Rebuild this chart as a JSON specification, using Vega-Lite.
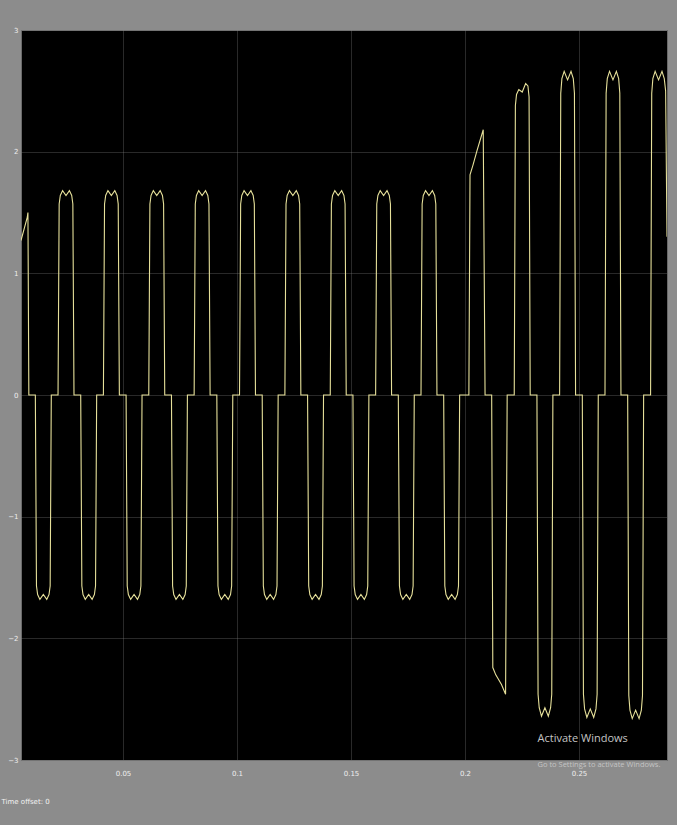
{
  "$schema": "https://vega.github.io/schema/vega-lite/v6.json",
  "width": 646,
  "height": 730,
  "autosize": {"type": "none"},
  "padding": {"left": 21, "top": 30, "right": 10, "bottom": 65},
  "background": "#8c8c8c",
  "config": {
    "view": {"fill": "#000000", "stroke": "#6a6a6a"},
    "axis": {
      "grid": true,
      "gridColor": "#8a8a8a",
      "gridDash": [1, 1],
      "gridWidth": 1,
      "gridOpacity": 0.6,
      "domain": false,
      "ticks": false,
      "labelColor": "#eeeeee",
      "labelFont": "DejaVu Sans",
      "labelFontSize": 7
    }
  },
  "datasets": {
    "wave": [
      {"t": 0.00526, "v": 127}, {"t": 0.0080, "v": 146}, {"t": 0.0083, "v": 150}, {"t": 0.0087, "v": 0},
      {"t": 0.01155, "v": 0}, {"t": 0.01205, "v": -157}, {"t": 0.01255, "v": -164}, {"t": 0.01355, "v": -168}, {"t": 0.01505, "v": -164}, {"t": 0.01655, "v": -168}, {"t": 0.01755, "v": -164}, {"t": 0.01805, "v": -157}, {"t": 0.01855, "v": 0},
      {"t": 0.0215, "v": 0}, {"t": 0.0220, "v": 157}, {"t": 0.0225, "v": 164}, {"t": 0.0235, "v": 168}, {"t": 0.0250, "v": 164}, {"t": 0.0265, "v": 168}, {"t": 0.0275, "v": 164}, {"t": 0.0280, "v": 157}, {"t": 0.0285, "v": 0},
      {"t": 0.03145, "v": 0}, {"t": 0.03195, "v": -157}, {"t": 0.03245, "v": -164}, {"t": 0.03345, "v": -168}, {"t": 0.03495, "v": -164}, {"t": 0.03645, "v": -168}, {"t": 0.03745, "v": -164}, {"t": 0.03795, "v": -157}, {"t": 0.03845, "v": 0},
      {"t": 0.0414, "v": 0}, {"t": 0.0419, "v": 157}, {"t": 0.0424, "v": 164}, {"t": 0.0434, "v": 168}, {"t": 0.0449, "v": 164}, {"t": 0.0464, "v": 168}, {"t": 0.0474, "v": 164}, {"t": 0.0479, "v": 157}, {"t": 0.0484, "v": 0},
      {"t": 0.05135, "v": 0}, {"t": 0.05185, "v": -157}, {"t": 0.05235, "v": -164}, {"t": 0.05335, "v": -168}, {"t": 0.05485, "v": -164}, {"t": 0.05635, "v": -168}, {"t": 0.05735, "v": -164}, {"t": 0.05785, "v": -157}, {"t": 0.05835, "v": 0},
      {"t": 0.0613, "v": 0}, {"t": 0.0618, "v": 157}, {"t": 0.0623, "v": 164}, {"t": 0.0633, "v": 168}, {"t": 0.0648, "v": 164}, {"t": 0.0663, "v": 168}, {"t": 0.0673, "v": 164}, {"t": 0.0678, "v": 157}, {"t": 0.0683, "v": 0},
      {"t": 0.07125, "v": 0}, {"t": 0.07175, "v": -157}, {"t": 0.07225, "v": -164}, {"t": 0.07325, "v": -168}, {"t": 0.07475, "v": -164}, {"t": 0.07625, "v": -168}, {"t": 0.07725, "v": -164}, {"t": 0.07775, "v": -157}, {"t": 0.07825, "v": 0},
      {"t": 0.0812, "v": 0}, {"t": 0.0817, "v": 157}, {"t": 0.0822, "v": 164}, {"t": 0.0832, "v": 168}, {"t": 0.0847, "v": 164}, {"t": 0.0862, "v": 168}, {"t": 0.0872, "v": 164}, {"t": 0.0877, "v": 157}, {"t": 0.0882, "v": 0},
      {"t": 0.09115, "v": 0}, {"t": 0.09165, "v": -157}, {"t": 0.09215, "v": -164}, {"t": 0.09315, "v": -168}, {"t": 0.09465, "v": -164}, {"t": 0.09615, "v": -168}, {"t": 0.09715, "v": -164}, {"t": 0.09765, "v": -157}, {"t": 0.09815, "v": 0},
      {"t": 0.1011, "v": 0}, {"t": 0.1016, "v": 157}, {"t": 0.1021, "v": 164}, {"t": 0.1031, "v": 168}, {"t": 0.1046, "v": 164}, {"t": 0.1061, "v": 168}, {"t": 0.1071, "v": 164}, {"t": 0.1076, "v": 157}, {"t": 0.1081, "v": 0},
      {"t": 0.11105, "v": 0}, {"t": 0.11155, "v": -157}, {"t": 0.11205, "v": -164}, {"t": 0.11305, "v": -168}, {"t": 0.11455, "v": -164}, {"t": 0.11605, "v": -168}, {"t": 0.11705, "v": -164}, {"t": 0.11755, "v": -157}, {"t": 0.11805, "v": 0},
      {"t": 0.1210, "v": 0}, {"t": 0.1215, "v": 157}, {"t": 0.1220, "v": 164}, {"t": 0.1230, "v": 168}, {"t": 0.1245, "v": 164}, {"t": 0.1260, "v": 168}, {"t": 0.1270, "v": 164}, {"t": 0.1275, "v": 157}, {"t": 0.1280, "v": 0},
      {"t": 0.13095, "v": 0}, {"t": 0.13145, "v": -157}, {"t": 0.13195, "v": -164}, {"t": 0.13295, "v": -168}, {"t": 0.13445, "v": -164}, {"t": 0.13595, "v": -168}, {"t": 0.13695, "v": -164}, {"t": 0.13745, "v": -157}, {"t": 0.13795, "v": 0},
      {"t": 0.1409, "v": 0}, {"t": 0.1414, "v": 157}, {"t": 0.1419, "v": 164}, {"t": 0.1429, "v": 168}, {"t": 0.1444, "v": 164}, {"t": 0.1459, "v": 168}, {"t": 0.1469, "v": 164}, {"t": 0.1474, "v": 157}, {"t": 0.1479, "v": 0},
      {"t": 0.15085, "v": 0}, {"t": 0.15135, "v": -157}, {"t": 0.15185, "v": -164}, {"t": 0.15285, "v": -168}, {"t": 0.15435, "v": -164}, {"t": 0.15585, "v": -168}, {"t": 0.15685, "v": -164}, {"t": 0.15735, "v": -157}, {"t": 0.15785, "v": 0},
      {"t": 0.1608, "v": 0}, {"t": 0.1613, "v": 157}, {"t": 0.1618, "v": 164}, {"t": 0.1628, "v": 168}, {"t": 0.1643, "v": 164}, {"t": 0.1658, "v": 168}, {"t": 0.1668, "v": 164}, {"t": 0.1673, "v": 157}, {"t": 0.1678, "v": 0},
      {"t": 0.17075, "v": 0}, {"t": 0.17125, "v": -157}, {"t": 0.17175, "v": -164}, {"t": 0.17275, "v": -168}, {"t": 0.17425, "v": -164}, {"t": 0.17575, "v": -168}, {"t": 0.17675, "v": -164}, {"t": 0.17725, "v": -157}, {"t": 0.17775, "v": 0},
      {"t": 0.1807, "v": 0}, {"t": 0.1812, "v": 157}, {"t": 0.1817, "v": 164}, {"t": 0.1827, "v": 168}, {"t": 0.1842, "v": 164}, {"t": 0.1857, "v": 168}, {"t": 0.1867, "v": 164}, {"t": 0.1872, "v": 157}, {"t": 0.1877, "v": 0},
      {"t": 0.19065, "v": 0}, {"t": 0.19115, "v": -157}, {"t": 0.19165, "v": -164}, {"t": 0.19265, "v": -168}, {"t": 0.19415, "v": -164}, {"t": 0.19565, "v": -168}, {"t": 0.19665, "v": -164}, {"t": 0.19715, "v": -157}, {"t": 0.19765, "v": 0},
      {"t": 0.2017, "v": 0}, {"t": 0.2022, "v": 181}, {"t": 0.2035, "v": 189}, {"t": 0.2053, "v": 201}, {"t": 0.2080, "v": 218}, {"t": 0.2088, "v": 0},
      {"t": 0.2117, "v": 0}, {"t": 0.2122, "v": -224}, {"t": 0.2135, "v": -230}, {"t": 0.2160, "v": -238}, {"t": 0.2178, "v": -246}, {"t": 0.2185, "v": 0},
      {"t": 0.2216, "v": 0}, {"t": 0.2221, "v": 238}, {"t": 0.2226, "v": 247}, {"t": 0.2236, "v": 251}, {"t": 0.2251, "v": 249}, {"t": 0.2266, "v": 256}, {"t": 0.2276, "v": 254}, {"t": 0.2281, "v": 245}, {"t": 0.2286, "v": 0},
      {"t": 0.23155, "v": 0}, {"t": 0.23205, "v": -246}, {"t": 0.23255, "v": -257}, {"t": 0.23355, "v": -264}, {"t": 0.23505, "v": -257}, {"t": 0.23655, "v": -264}, {"t": 0.23755, "v": -257}, {"t": 0.23805, "v": -246}, {"t": 0.23855, "v": 0},
      {"t": 0.2415, "v": 0}, {"t": 0.2420, "v": 248}, {"t": 0.2425, "v": 260}, {"t": 0.2435, "v": 266}, {"t": 0.2450, "v": 259}, {"t": 0.2465, "v": 266}, {"t": 0.2475, "v": 260}, {"t": 0.2480, "v": 248}, {"t": 0.2485, "v": 0},
      {"t": 0.25145, "v": 0}, {"t": 0.25195, "v": -246}, {"t": 0.25245, "v": -258}, {"t": 0.25345, "v": -265}, {"t": 0.25495, "v": -258}, {"t": 0.25645, "v": -265}, {"t": 0.25745, "v": -258}, {"t": 0.25795, "v": -246}, {"t": 0.25845, "v": 0},
      {"t": 0.2614, "v": 0}, {"t": 0.2619, "v": 248}, {"t": 0.2624, "v": 260}, {"t": 0.2634, "v": 266}, {"t": 0.2649, "v": 259}, {"t": 0.2664, "v": 266}, {"t": 0.2674, "v": 260}, {"t": 0.2679, "v": 248}, {"t": 0.2684, "v": 0},
      {"t": 0.27135, "v": 0}, {"t": 0.27185, "v": -247}, {"t": 0.27235, "v": -259}, {"t": 0.27335, "v": -266}, {"t": 0.27485, "v": -259}, {"t": 0.27635, "v": -266}, {"t": 0.27735, "v": -259}, {"t": 0.27785, "v": -247}, {"t": 0.27835, "v": 0},
      {"t": 0.2814, "v": 0}, {"t": 0.2819, "v": 248}, {"t": 0.2824, "v": 260}, {"t": 0.2834, "v": 266}, {"t": 0.2849, "v": 259}, {"t": 0.2864, "v": 266}, {"t": 0.2874, "v": 260}, {"t": 0.2880, "v": 250}, {"t": 0.2886, "v": 130}
    ],
    "wm": [
      {"t": 0.2318, "v": -283, "label": "Activate Windows", "size": 11},
      {"t": 0.2318, "v": -304, "label": "Go to Settings to activate Windows.", "size": 7.5}
    ]
  },
  "layer": [
    {
      "data": {"name": "wave"},
      "mark": {"type": "line", "color": "#e6e09a", "strokeWidth": 1.1, "clip": true, "interpolate": "linear"},
      "encoding": {
        "x": {
          "field": "t", "type": "quantitative",
          "scale": {"domain": [0.00526, 0.2886], "nice": false, "zero": false},
          "axis": {"values": [0.05, 0.1, 0.15, 0.2, 0.25], "format": "~g", "labelPadding": 9,
                   "title": "Time offset:  0", "titleColor": "#f2f2f2", "titleFont": "DejaVu Sans", "titleFontSize": 7, "titleFontWeight": "normal",
                   "titleAnchor": "start", "titleAlign": "left", "titleX": -20, "titleY": 37}
        },
        "y": {
          "field": "v", "type": "quantitative",
          "scale": {"domain": [-300, 300], "nice": false},
          "axis": {"values": [-300, -200, -100, 0, 100, 200, 300], "labelExpr": "format(datum.value / 100, 'd')", "labelPadding": 3, "title": null}
        }
      }
    },
    {
      "data": {"name": "wm"},
      "mark": {"type": "text", "align": "left", "baseline": "middle", "color": "#c4c4c4", "font": "Open Sans", "clip": false},
      "encoding": {
        "x": {"field": "t", "type": "quantitative", "scale": {"domain": [0.00526, 0.2886], "nice": false, "zero": false}},
        "y": {"field": "v", "type": "quantitative", "scale": {"domain": [-300, 300], "nice": false}},
        "text": {"field": "label"},
        "size": {"field": "size", "type": "quantitative", "scale": null}
      }
    }
  ]
}
